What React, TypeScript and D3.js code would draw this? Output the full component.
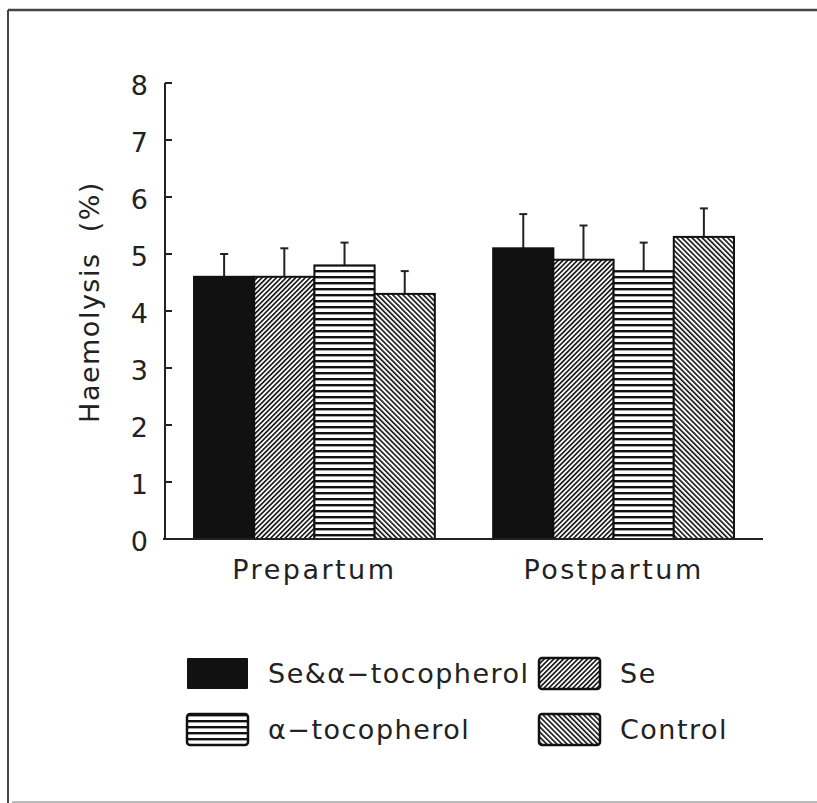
import React from "react";
import * as d3 from "d3";

// Values
const groups = ["Prepartum", "Postpartum"];
const series = ["Se&α−tocopherol", "Se", "α−tocopherol", "Control"];
const prepartumMeans = [4.6, 4.6, 4.8, 4.3];
const prepartumErrors = [0.4, 0.5, 0.4, 0.4];
const postpartumMeans = [5.1, 4.9, 4.7, 5.3];
const postpartumErrors = [0.6, 0.6, 0.5, 0.5];
const yTicks = [0, 1, 2, 3, 4, 5, 6, 7, 8];
const legendRows = [
  ["Se&α−tocopherol", "Se"],
  ["α−tocopherol", "Control"],
];

const W = 817;
const H = 803;
const FONT = "'DejaVu Sans', sans-serif";
const fills = ["#111", "url(#hatchSe)", "url(#hatchToco)", "url(#hatchCtrl)"];

export default function App() {
  const x0 = d3
    .scaleBand<string>()
    .domain(groups)
    .range([165, 763])
    .paddingInner(0.195)
    .paddingOuter(0.097);
  const x1 = d3
    .scaleBand<string>()
    .domain(series)
    .range([0, x0.bandwidth()])
    .padding(0);
  const y = d3.scaleLinear().domain([0, 8]).range([539, 83]);

  const rows = groups.map((g, gi) =>
    series.map((s, si) => ({
      group: g,
      key: s,
      idx: si,
      value: gi === 0 ? prepartumMeans[si] : postpartumMeans[si],
      err: gi === 0 ? prepartumErrors[si] : postpartumErrors[si],
    }))
  );

  return (
    <div style={{ position: "absolute", left: 0, top: 0 }}>
      <svg width={W} height={H} style={{ display: "block", background: "#fff" }}>
        <defs>
          <pattern id="hatchSe" patternUnits="userSpaceOnUse" width={3.4} height={3.4} patternTransform="rotate(45)">
            <rect width={3.4} height={3.4} fill="#fff" />
            <rect width={1.6} height={3.4} fill="#111" />
          </pattern>
          <pattern id="hatchCtrl" patternUnits="userSpaceOnUse" width={3.6} height={3.6} patternTransform="rotate(-45)">
            <rect width={3.6} height={3.6} fill="#fff" />
            <rect width={1.6} height={3.6} fill="#111" />
          </pattern>
          <pattern id="hatchToco" patternUnits="userSpaceOnUse" width={6} height={6}>
            <rect width={6} height={6} fill="#fff" />
            <rect width={6} height={2.4} fill="#111" />
          </pattern>
        </defs>

        {/* frame */}
        <line x1={8} y1={10} x2={W} y2={10} stroke="#444" strokeWidth={2.5} />
        <line x1={8} y1={10} x2={8} y2={H} stroke="#444" strokeWidth={2} />
        <line x1={12} y1={802} x2={W} y2={802} stroke="#bbb" strokeWidth={2} />

        {/* bars */}
        {rows.map((row) =>
          row.map((d) => {
            const bx = (x0(d.group) ?? 0) + (x1(d.key) ?? 0);
            const bw = x1.bandwidth();
            const cx = bx + bw / 2;
            return (
              <g key={d.group + d.key}>
                <line x1={cx} x2={cx} y1={y(d.value)} y2={y(d.value + d.err)} stroke="#222" strokeWidth={2} />
                <line x1={cx - 4} x2={cx + 4} y1={y(d.value + d.err)} y2={y(d.value + d.err)} stroke="#222" strokeWidth={2} />
                <rect
                  x={bx}
                  y={y(d.value)}
                  width={bw}
                  height={y(0) - y(d.value)}
                  fill={fills[d.idx]}
                  stroke="#111"
                  strokeWidth={2}
                />
              </g>
            );
          })
        )}

        {/* axes */}
        <line x1={165} x2={165} y1={y(8)} y2={y(0)} stroke="#222" strokeWidth={2} />
        <line x1={163} x2={763} y1={y(0)} y2={y(0)} stroke="#222" strokeWidth={2} />
        {yTicks.map((t) => (
          <g key={t}>
            <line x1={165} x2={172} y1={y(t)} y2={y(t)} stroke="#222" strokeWidth={2} />
            <text x={148} y={y(t)} dy="0.46em" textAnchor="end" fontFamily={FONT} fontSize={27} fill="#222">
              {t}
            </text>
          </g>
        ))}
        {groups.map((g) => (
          <text
            key={g}
            x={(x0(g) ?? 0) + x0.bandwidth() / 2}
            y={579}
            textAnchor="middle"
            fontFamily={FONT}
            fontSize={27}
            letterSpacing={2.5}
            fill="#222"
          >
            {g}
          </text>
        ))}
        <text
          transform="translate(99,302) rotate(-90)"
          textAnchor="middle"
          fontFamily={FONT}
          fontSize={27}
          letterSpacing={1.5}
          fill="#222"
          style={{ whiteSpace: "pre" }}
        >
          {"Haemolysis  (%)"}
        </text>

        {/* legend */}
        {legendRows.map((row, ri) =>
          row.map((name, ci) => {
            const lx = ci === 0 ? 187 : 539;
            const ly = ri === 0 ? 658 : 714;
            const si = series.indexOf(name);
            return (
              <g key={name}>
                <rect
                  x={lx}
                  y={ly}
                  width={61}
                  height={31}
                  rx={si === 0 ? 1 : 3}
                  fill={fills[si]}
                  stroke="#111"
                  strokeWidth={si === 0 ? 0 : 2.5}
                />
                <text
                  x={lx + 81}
                  y={ly + 25}
                  fontFamily={FONT}
                  fontSize={27}
                  letterSpacing={1.5}
                  fill="#222"
                >
                  {name}
                </text>
              </g>
            );
          })
        )}
      </svg>
    </div>
  );
}
